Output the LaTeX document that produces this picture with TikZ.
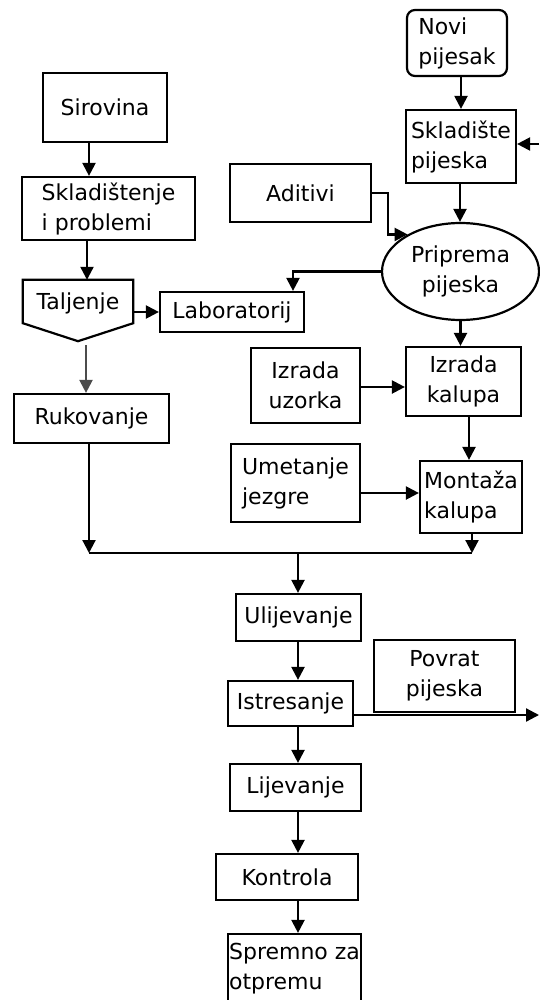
\documentclass[tikz,border=0pt]{standalone}
\usepackage{fontspec}
\setmainfont{DejaVu Sans}
\usetikzlibrary{arrows.meta,shapes.geometric}
\begin{document}
\begin{tikzpicture}[x=1pt,y=-1pt,
  every node/.style={font=\fontsize{22}{30}\selectfont, inner sep=0pt},
  box/.style={draw, line width=2.2pt, rectangle},
  arr/.style={line width=2.2pt, -{Triangle[length=13pt,width=13pt]}},
  plain/.style={line width=2.2pt}]
\useasboundingbox (0,0) rectangle (539,1000);
% helper coordinates
\coordinate (c86) at (86,0);
\coordinate (c87) at (87,0);
\coordinate (c89) at (89,0);
\coordinate (c293) at (293,0);
\coordinate (c388) at (388,0);
\coordinate (c460) at (460,0);
\coordinate (c461) at (461,0);
\coordinate (c469) at (469,0);
\coordinate (y387) at (0,387);
\coordinate (y493) at (0,493);
\coordinate (y715) at (0,715);
\coordinate (rin) at (539,144);
\coordinate (rout) at (539,715);
\coordinate (mL) at (89,553);
\coordinate (mR) at (472,553);
\coordinate (mM) at (298,553);
% nodes
\node[box, minimum width=124, minimum height=69] (sir) at (105,107.5) {Sirovina};
\node[box, minimum width=173, minimum height=63, align=left] (skl) at (108.5,208.5) {Skladištenje\\i problemi};
\node[minimum width=110, minimum height=61] (talj) at (78,310.5) {};
\draw[line width=2.2pt, line join=miter] (talj.north west) -- (talj.north east) -- ([yshift=18]talj.south east) -- (talj.south) -- ([yshift=18]talj.south west) -- cycle;
\node (taljtxt) at (78,303) {Taljenje};
\node[box, minimum width=144, minimum height=40] (lab) at (232,312) {Laboratorij};
\node[box, minimum width=155, minimum height=49] (ruk) at (91.5,418.5) {Rukovanje};
\node[box, rounded corners=8pt, minimum width=100, minimum height=66, align=left] (novi) at (457,43) {Novi\\pijesak};
\node[box, minimum width=110, minimum height=73, align=left] (skp) at (461,146.5) {Skladište\\pijeska};
\node[box, minimum width=141, minimum height=58] (adi) at (300.5,193) {Aditivi};
\node[draw, line width=2.2pt, ellipse, minimum width=157, minimum height=97, align=center] (pri) at (460.5,271.5) {Priprema\\pijeska};
\node[box, minimum width=109, minimum height=75, align=center] (izu) at (305.5,385.5) {Izrada\\uzorka};
\node[box, minimum width=115, minimum height=69, align=center] (izk) at (463.5,381.5) {Izrada\\kalupa};
\node[box, minimum width=129, minimum height=78, align=left] (ume) at (295.5,483) {Umetanje\\jezgre};
\node[box, minimum width=102, minimum height=72, align=left] (mon) at (471,497) {Montaža\\kalupa};
\node[box, minimum width=125, minimum height=47] (ulj) at (298.5,617.5) {Ulijevanje};
\node[box, minimum width=125, minimum height=45] (ist) at (290.5,703.5) {Istresanje};
\node[box, minimum width=141, minimum height=72, align=center] (pov) at (444.5,676) {Povrat\\pijeska};
\node[box, minimum width=131, minimum height=47] (lij) at (295.5,787.5) {Lijevanje};
\node[box, minimum width=142, minimum height=46] (kon) at (287,877) {Kontrola};
\node[box, minimum width=133, minimum height=70, align=left] (spr) at (294.5,969) {Spremno za\\otpremu};
% connectors
\draw[arr] (sir.south -| c89) -- (skl.north -| c89);
\draw[arr] (skl.south -| c87) -- (talj.north -| c87);
\draw[arr, black!70] ([yshift=-4]talj.south -| c86) -- (ruk.north -| c86);
\draw[arr] (lab.west -| talj.east) -- (lab.west);
\draw[arr] (pri.west) -| (lab.north -| c293);
\draw[arr] (adi.east) -- (adi.east -| c388) |- (pri.145);
\draw[arr] (novi.south -| c461) -- (skp.north -| c461);
\draw[arr] (rin) -- (rin -| skp.east);
\draw[arr] (skp.south -| c460) -- (pri.north -| c460);
\draw[arr] (pri.south) -- (izk.north -| pri.south);
\draw[arr] (izu.east |- y387) -- (izk.west |- y387);
\draw[arr] (izk.south -| c469) -- (mon.north -| c469);
\draw[arr] (ume.east |- y493) -- (mon.west |- y493);
\draw[arr] (ruk.south -| mL) -- (mL);
\draw[arr] (mon.south -| mR) -- (mR);
\draw[plain] (mL) -- (mR);
\draw[arr] (mM) -- (ulj.north -| mM);
\draw[arr] (ulj.south -| mM) -- (ist.north -| mM);
\draw[arr] (ist.south -| mM) -- (lij.north -| mM);
\draw[arr] (lij.south -| mM) -- (kon.north -| mM);
\draw[arr] (kon.south -| mM) -- (spr.north -| mM);
\draw[arr] (ist.east |- y715) -- (rout);
\end{tikzpicture}
\end{document}
